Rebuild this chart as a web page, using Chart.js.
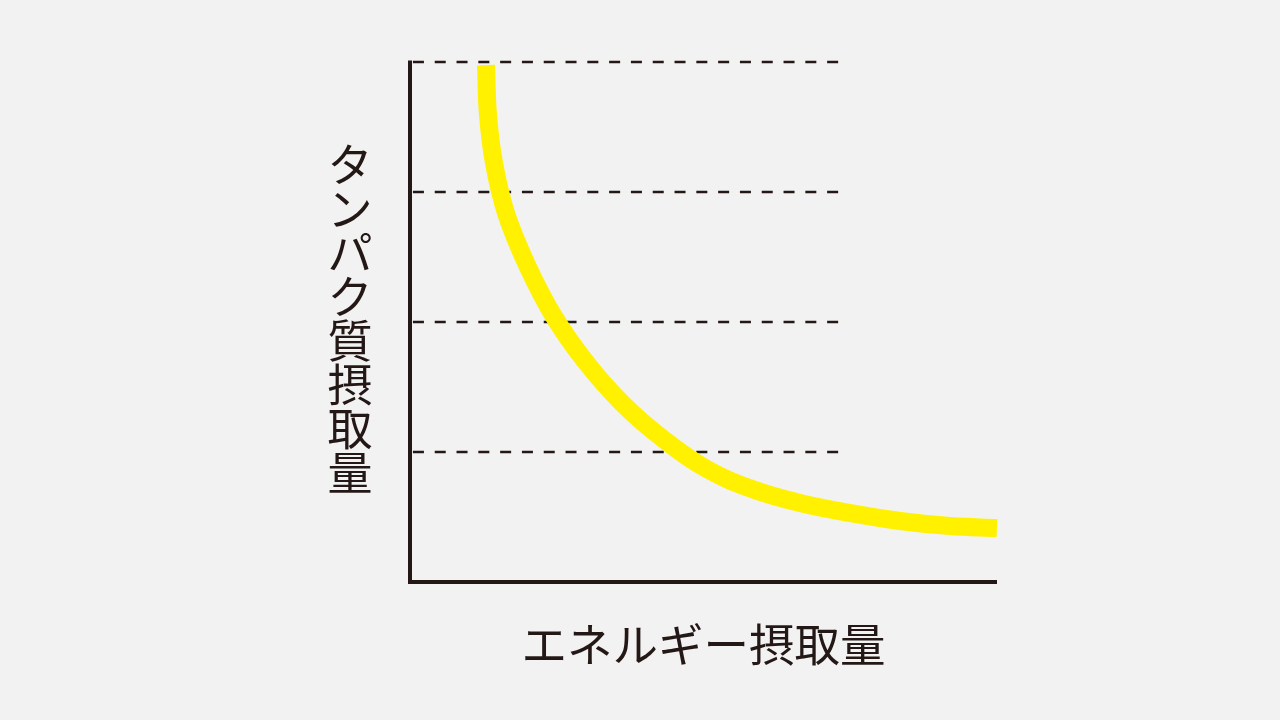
<!DOCTYPE html>
<html><head><meta charset="utf-8">
<script src="https://cdn.jsdelivr.net/npm/chart.js@4"></script>
<style>html,body{margin:0;padding:0;background:#f2f2f2;}canvas{display:block;}</style>
</head><body>
<canvas id="c" width="1280" height="720"></canvas>
<script>
const curveX = [12.95, 13.29, 14.31, 16.35, 19.93, 24.36, 29.81, 36.12, 42.93, 50.26, 58.26, 66.44, 74.96, 83.48, 91.99, 100];
const curveY = [99.42, 89.81, 80.58, 70.96, 60.96, 51.35, 42.50, 34.42, 27.69, 21.92, 17.88, 15.19, 13.27, 11.73, 10.77, 10.38];
const guideLevels = [25, 50, 75, 100];
const guideStartX = 0.5;
const guideEndX = 73.1;
const xLabel = 'エネルギー摂取量';
const yLabel = 'タンパク質摂取量';

const ink = '#231815';
const datasets = [];
guideLevels.forEach(v => datasets.push({
  data: [{x: guideStartX, y: v}, {x: guideEndX, y: v}],
  borderColor: ink, borderWidth: 2.7, borderDash: [11, 10.8], borderCapStyle: 'butt', pointRadius: 0, clip: false, order: 3
}));
datasets.push({
  data: curveX.map((x, i) => ({x, y: curveY[i]})),
  borderColor: '#fff100', borderWidth: 18, borderCapStyle: 'butt', borderJoinStyle: 'round', pointRadius: 0,
  tension: 0.4, clip: false, order: 2
});
datasets.push({
  data: [{x: 0, y: 100.3}, {x: 0, y: 0}, {x: 100, y: 0}],
  borderColor: ink, borderWidth: 4, borderCapStyle: 'butt', borderJoinStyle: 'miter', pointRadius: 0, clip: false, order: 1
});

const bgPlugin = {
  id: 'bg',
  beforeDraw(chart) {
    const c = chart.ctx; c.save(); c.fillStyle = '#f2f2f2'; c.fillRect(0, 0, chart.width, chart.height); c.restore();
  },
  afterDraw(chart) {
    const c = chart.ctx; const a = chart.chartArea;
    c.save();
    c.fillStyle = ink;
    c.font = '45.5px "Noto Sans CJK JP"';
    c.textAlign = 'center'; c.textBaseline = 'middle';
    c.fillText(xLabel, (a.left + a.right) / 2, 645);
    c.font = '45px "Noto Sans CJK JP"';
    const chars = Array.from(yLabel);
    const step = 44, cx = 350, start = 165;
    chars.forEach((ch, i) => c.fillText(ch, cx, start + i * step));
    c.restore();
  }
};

new Chart(document.getElementById('c'), {
  type: 'line',
  data: { datasets },
  options: {
    responsive: false, animation: false, devicePixelRatio: 1,
    layout: { padding: { left: 410, right: 283, top: 62, bottom: 138 } },
    plugins: { legend: { display: false }, tooltip: { enabled: false } },
    scales: {
      x: { type: 'linear', min: 0, max: 100, display: false },
      y: { type: 'linear', min: 0, max: 100, display: false }
    }
  },
  plugins: [bgPlugin]
});
</script>
</body></html>
